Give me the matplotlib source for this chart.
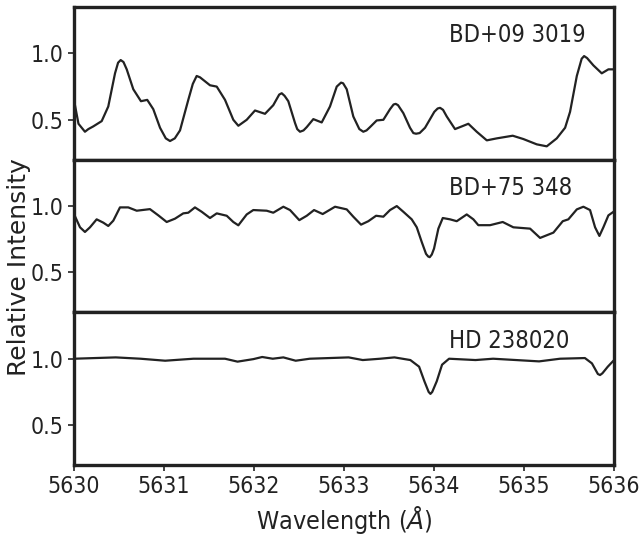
import matplotlib
matplotlib.use("Agg")
import matplotlib.pyplot as plt

# wavelengths (A) and relative intensity
wl_bd09 = [5630.000, 5630.050, 5630.122, 5630.160, 5630.214, 5630.308, 5630.381, 5630.456,
           5630.490, 5630.519, 5630.550, 5630.586, 5630.659, 5630.744, 5630.814, 5630.881,
           5630.956, 5631.020, 5631.067, 5631.120, 5631.178, 5631.270, 5631.320, 5631.363,
           5631.400, 5631.437, 5631.511, 5631.586, 5631.678, 5631.770, 5631.826, 5631.919,
           5632.011, 5632.122, 5632.214, 5632.280, 5632.308, 5632.340, 5632.381, 5632.456,
           5632.480, 5632.511, 5632.550, 5632.586, 5632.659, 5632.752, 5632.844, 5632.919,
           5632.967, 5632.990, 5633.030, 5633.103, 5633.170, 5633.214, 5633.250, 5633.289,
           5633.363, 5633.437, 5633.511, 5633.550, 5633.574, 5633.600, 5633.659, 5633.733,
           5633.770, 5633.800, 5633.840, 5633.900, 5634.003, 5634.040, 5634.067, 5634.100,
           5634.141, 5634.233, 5634.308, 5634.381, 5634.474, 5634.586, 5634.697, 5634.874,
           5634.992, 5635.141, 5635.252, 5635.363, 5635.456, 5635.511, 5635.586, 5635.640,
           5635.667, 5635.700, 5635.770, 5635.863, 5635.937, 5636.000]
int_bd09 = [0.65, 0.47, 0.41, 0.43, 0.45, 0.49, 0.60, 0.85,
            0.93, 0.95, 0.935, 0.88, 0.73, 0.64, 0.65, 0.58,
            0.44, 0.36, 0.34, 0.36, 0.42, 0.65, 0.77, 0.83,
            0.82, 0.80, 0.76, 0.75, 0.65, 0.50, 0.455, 0.50,
            0.57, 0.545, 0.61, 0.69, 0.70, 0.68, 0.64, 0.475,
            0.43, 0.41, 0.42, 0.445, 0.505, 0.48, 0.60, 0.75,
            0.78, 0.775, 0.73, 0.525, 0.43, 0.41, 0.42, 0.445,
            0.495, 0.50, 0.58, 0.615, 0.62, 0.61, 0.55, 0.44,
            0.40, 0.395, 0.40, 0.44, 0.56, 0.585, 0.59, 0.575,
            0.525, 0.43, 0.45, 0.47, 0.41, 0.345, 0.36, 0.38,
            0.355, 0.315, 0.30, 0.36, 0.44, 0.56, 0.83, 0.96,
            0.98, 0.965, 0.91, 0.85, 0.88, 0.88]

wl_bd75 = [5630.000, 5630.067, 5630.122, 5630.178, 5630.252, 5630.326, 5630.381, 5630.437,
           5630.511, 5630.603, 5630.697, 5630.844, 5630.937, 5631.030, 5631.122, 5631.214,
           5631.270, 5631.344, 5631.419, 5631.511, 5631.586, 5631.697, 5631.770, 5631.826,
           5631.919, 5631.992, 5632.141, 5632.214, 5632.326, 5632.400, 5632.503, 5632.586,
           5632.667, 5632.763, 5632.900, 5633.030, 5633.103, 5633.189, 5633.270, 5633.356,
           5633.437, 5633.511, 5633.586, 5633.659, 5633.752, 5633.808, 5633.863, 5633.911,
           5633.935, 5633.952, 5633.975, 5634.000, 5634.048, 5634.097, 5634.178, 5634.252,
           5634.363, 5634.437, 5634.492, 5634.622, 5634.763, 5634.881, 5635.067, 5635.178,
           5635.326, 5635.430, 5635.492, 5635.586, 5635.659, 5635.733, 5635.789, 5635.837,
           5635.881, 5635.937, 5636.000]
int_bd75 = [0.94, 0.84, 0.805, 0.84, 0.90, 0.875, 0.85, 0.89,
            0.99, 0.99, 0.965, 0.977, 0.93, 0.88, 0.905, 0.945,
            0.95, 0.99, 0.957, 0.91, 0.945, 0.927, 0.88, 0.855,
            0.937, 0.97, 0.965, 0.95, 0.995, 0.97, 0.894, 0.927,
            0.97, 0.94, 0.995, 0.975, 0.92, 0.86, 0.886, 0.927,
            0.92, 0.97, 1.0, 0.957, 0.90, 0.84, 0.73, 0.64,
            0.62, 0.615, 0.635, 0.68, 0.83, 0.91, 0.90, 0.886,
            0.937, 0.90, 0.856, 0.856, 0.88, 0.84, 0.83, 0.76,
            0.80, 0.886, 0.90, 0.975, 0.995, 0.97, 0.84, 0.775,
            0.84, 0.93, 0.96]

wl_hd = [5630.000, 5630.464, 5630.739, 5631.013, 5631.327, 5631.678, 5631.817, 5631.993,
         5632.091, 5632.208, 5632.326, 5632.463, 5632.620, 5633.051, 5633.208, 5633.403,
         5633.560, 5633.737, 5633.834, 5633.893, 5633.940, 5633.960, 5633.980, 5634.030,
         5634.089, 5634.167, 5634.461, 5634.656, 5635.167, 5635.400, 5635.676, 5635.754,
         5635.820, 5635.844, 5635.870, 5635.930, 5636.000]
int_hd = [1.0, 1.01, 1.0, 0.985, 1.0, 1.0, 0.978, 0.997,
          1.013, 1.0, 1.01, 0.985, 1.0, 1.01, 0.99, 1.0,
          1.01, 0.99, 0.94, 0.83, 0.75, 0.735, 0.75, 0.83,
          0.955, 1.0, 0.99, 1.0, 0.98, 1.0, 1.005, 0.965,
          0.885, 0.877, 0.89, 0.94, 0.99]

stars = ["BD+09 3019", "BD+75 348", "HD 238020"]
spectra = [(wl_bd09, int_bd09), (wl_bd75, int_bd75), (wl_hd, int_hd)]
xticks = [5630, 5631, 5632, 5633, 5634, 5635, 5636]
yticks = [0.5, 1.0]

ink = "#222222"
fig, axes = plt.subplots(3, 1, figsize=(6.41, 5.35), dpi=100, sharex=True)
fig.subplots_adjust(left=0.1154, right=0.958, top=0.987, bottom=0.131, hspace=0)

for ax, name, (wl, flux) in zip(axes, stars, spectra):
    ax.plot(wl, flux, color=ink, lw=1.6, solid_joinstyle="round", solid_capstyle="round")
    ax.set_xlim(5630, 5636)
    ax.set_ylim(0.2, 1.35)
    ax.set_yticks(yticks)
    ax.set_yticklabels(["0.5", "1.0"])
    ax.set_xticks(xticks)
    for s in ax.spines.values():
        s.set_linewidth(2.4)
        s.set_color(ink)
    ax.tick_params(axis="both", direction="out", length=4, width=1.2, color=ink,
                   labelsize=16.5, labelcolor=ink)
    for lab in ax.get_yticklabels() + ax.get_xticklabels():
        lab.set_fontstretch("condensed")
    ax.text(0.694, 0.815, name, transform=ax.transAxes, ha="left", va="center",
            fontsize=17, color=ink, fontstretch="condensed")

axes[-1].set_xticklabels([str(t) for t in xticks])
axes[-1].set_xlabel("Wavelength ($Å$)", fontsize=18, color=ink, fontstretch="condensed")
fig.text(0.03, 0.5, "Relative Intensity", rotation=90, ha="center", va="center",
         fontsize=18, color=ink)

fig.savefig("out.png", dpi=100)
